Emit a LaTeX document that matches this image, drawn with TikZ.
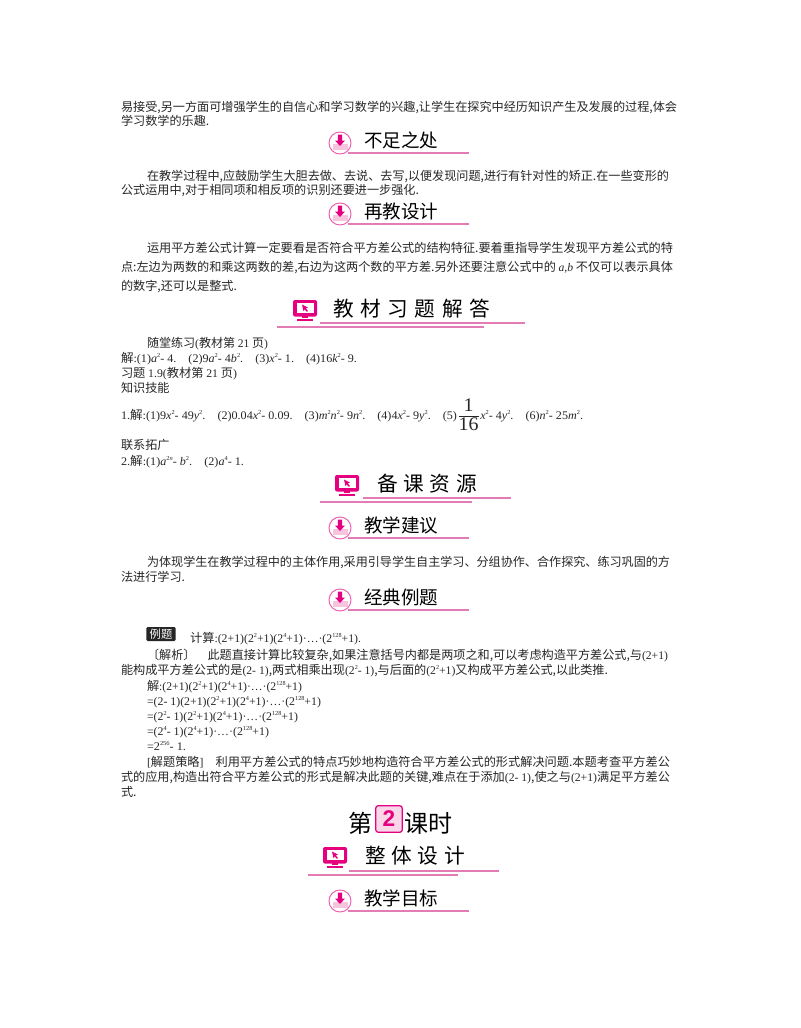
\documentclass[tikz,border=0pt]{standalone}
\usepackage{fontspec}
\setmainfont{Noto Sans CJK SC}
\newfontfamily\latin[Scale=0.96]{Liberation Serif}
\newfontfamily\sanf{Liberation Sans}
\definecolor{pinkm}{HTML}{E4007F}
\definecolor{pinkl}{HTML}{E37BB5}
\definecolor{pinkp}{HTML}{F7C4DE}
\newcommand\la[1]{{\latin #1}}
\newcommand\va[1]{{\itshape #1}}
\newcommand\su[1]{\raisebox{0.42em}{\fontsize{4.8}{5}\selectfont #1}}
\tikzset{
  txtline/.style={anchor=base west,inner sep=0pt,outer sep=0pt,text=black!85,font=\fontsize{9.1}{11}\selectfont},
  headtxt/.style={txtline,text=black,font=\fontsize{13.9}{15}\selectfont},
  bigtxt/.style={txtline,text=black,font=\fontsize{15.5}{17}\selectfont},
  rulepink/.style={draw=pinkl,line width=0.8pt}
}
% one line set to a given right end
\newcommand\fitline[5]{\node[txtline] (#1) at (#2,#3) {\resizebox{\dimexpr 0.75pt*\numexpr #4-#2\relax\relax}{\height}{#5}};}
\newcommand\plainline[4]{\node[txtline] (#1) at (#2,#3) {#4};}
\newcommand\dlhead[3]{%
  \node[circle,draw=pinkm!65,fill=white,line width=0.7pt,minimum size=16.5pt,inner sep=0pt] (#1) at (340,#2+2) {};
  \fill[pinkp] (332.5,#2+3) rectangle (347.5,#2+9);
  \fill[pinkm] (337.9,#2-6.5) -- (342.1,#2-6.5) -- (342.1,#2-0.5) -- (345,#2-0.5) -- (340,#2+5) -- (335,#2-0.5) -- (337.9,#2-0.5) -- cycle;
  \node[headtxt] (#1t) at (364,#2+6) {#3};
  \draw[rulepink] (348,#2+12) -- (469,#2+12);
}
\newcommand\pchead[8]{% name, icon x, icon y, text x, text end, text, line one, line two
  \fill[pinkm,rounded corners=1.5pt] (#2-12,#3-10) rectangle (#2+12,#3+6.5);
  \fill[white] (#2-8.5,#3-7) rectangle (#2+8.5,#3+3);
  \fill[pinkm] (#2-3,#3-5.5) -- (#2+3,#3-2.5) -- (#2+0.8,#3-1.6) -- (#2+3,#3+1) -- (#2+1.8,#3+1.8) -- (#2-0.3,#3-0.6) -- (#2-1.5,#3+1.2) -- cycle;
  \fill[pinkm] (#2-3,#3+6) rectangle (#2+3,#3+8);
  \fill[pinkm] (#2-8,#3+8.5) rectangle (#2+8,#3+10.5);
  \node[bigtxt] (#1) at (#4,#3+6.5) {\hbox to \dimexpr 0.75pt*\numexpr #5-#4\relax\relax{#6}};
  \draw[rulepink] #7;
  \draw[rulepink] #8;
}
\begin{document}
\begin{tikzpicture}[x=0.75pt,y=-0.75pt]
\useasboundingbox (0,0) rectangle (800,1028);
\fitline{pa}{121}{111}{677}{易接受,另一方面可增强学生的自信心和学习数学的兴趣,让学生在探究中经历知识产生及发展的过程,体会}
\plainline{pb}{121}{125}{学习数学的乐趣.}
\dlhead{hbz}{141}{不足之处}
\fitline{pc}{147}{180}{669}{在教学过程中,应鼓励学生大胆去做、去说、去写,以便发现问题,进行有针对性的矫正.在一些变形的}
\plainline{pd}{121}{194}{公式运用中,对于相同项和相反项的识别还要进一步强化.}
\dlhead{hzj}{212}{再教设计}
\fitline{pe}{147}{252}{673}{运用平方差公式计算一定要看是否符合平方差公式的结构特征.要着重指导学生发现平方差公式的特}
\fitline{pf}{121}{271}{673}{点:左边为两数的和乘这两数的差,右边为这两个数的平方差.另外还要注意公式中的 \la{\va{a},\va{b}} 不仅可以表示具体}
\plainline{pg}{121}{290}{的数字,还可以是整式.}
\pchead{hjc}{305}{310}{333}{490}{教\hfill 材\hfill 习\hfill 题\hfill 解\hfill 答}{(320,323) -- (525,323)}{(277,327) -- (484,327)}
\fitline{qa}{147}{347}{268}{随堂练习\la{(}教材第 \la{21} 页\la{)}}
\fitline{qb}{121}{362}{357}{解\la{:(1)\va{a}\su{2}- 4.\quad (2)9\va{a}\su{2}- 4\va{b}\su{2}.\quad (3)\va{x}\su{2}- 1.\quad (4)16\va{k}\su{2}- 9.}}
\fitline{qc}{121}{377}{237}{习题 \la{1.9(}教材第 \la{21} 页\la{)}}
\plainline{qd}{121}{392}{知识技能}
\fitline{qe}{121}{419}{583}{\la{1.}解\la{:(1)9\va{x}\su{2}- 49\va{y}\su{2}.\quad (2)0.04\va{x}\su{2}- 0.09.\quad (3)\va{m}\su{2}\va{n}\su{2}- 9\va{n}\su{2}.\quad (4)4\va{x}\su{2}- 9\va{y}\su{2}.\quad (5)$\displaystyle\frac{\mbox{\fontsize{15}{15}\selectfont 1}}{\mbox{\fontsize{15}{15}\selectfont 16}}$\va{x}\su{2}- 4\va{y}\su{2}.\quad (6)\va{n}\su{2}- 25\va{m}\su{2}.}}
\plainline{qf}{121}{449}{联系拓广}
\fitline{qg}{121}{465}{244}{\la{2.}解\la{:(1)\va{a}\su{2\va{n}}- \va{b}\su{2}.\quad (2)\va{a}\su{4}- 1.}}
\pchead{hbk}{347}{485}{377}{477}{备\hfill 课\hfill 资\hfill 源}{(363,498) -- (511,498)}{(320,502) -- (472,502)}
\dlhead{hjy}{526}{教学建议}
\fitline{ra}{147}{566}{670}{为体现学生在教学过程中的主体作用,采用引导学生自主学习、分组协作、合作探究、练习巩固的方}
\plainline{rb}{121}{581}{法进行学习.}
\dlhead{hjd}{598}{经典例题}
\node[fill=black!85,text=white,rounded corners=1pt,inner sep=0pt,minimum width=22pt,minimum height=10.5pt,font=\fontsize{8.5}{9}\selectfont] (lt) at (161,634) {例题};
\fitline{sa}{190}{642}{361}{计算\la{:(2+1)(2\su{2}+1)(2\su{4}+1)·…·(2\su{128}+1).}}
\fitline{sb}{147}{659}{668}{〔解析〕\hspace{9pt}此题直接计算比较复杂,如果注意括号内都是两项之和,可以考虑构造平方差公式,与\la{(2+1)}}
\fitline{sc}{121}{674}{608}{能构成平方差公式的是\la{(2- 1)},两式相乘出现\la{(2\su{2}- 1)},与后面的\la{(2\su{2}+1)}又构成平方差公式,以此类推.}
\fitline{sd}{147}{690}{302}{解\la{:(2+1)(2\su{2}+1)(2\su{4}+1)·…·(2\su{128}+1)}}
\fitline{se}{147}{705}{321}{\la{=(2- 1)(2+1)(2\su{2}+1)(2\su{4}+1)·…·(2\su{128}+1)}}
\fitline{sf}{147}{720}{298}{\la{=(2\su{2}- 1)(2\su{2}+1)(2\su{4}+1)·…·(2\su{128}+1)}}
\fitline{sg}{147}{735}{269}{\la{=(2\su{4}- 1)(2\su{4}+1)·…·(2\su{128}+1)}}
\fitline{sh}{147}{750}{186}{\la{=2\su{256}- 1.}}
\fitline{si}{147}{766}{670}{\la{[}解题策略\la{]}\hspace{9pt}利用平方差公式的特点巧妙地构造符合平方差公式的形式解决问题.本题考查平方差公}
\fitline{sj}{121}{781}{670}{式的应用,构造出符合平方差公式的形式是解决此题的关键,难点在于添加\la{(2- 1)},使之与\la{(2+1)}满足平方差公}
\plainline{sk}{121}{796}{式.}
% lesson title
\node[txtline,text=black,font=\fontsize{18}{20}\selectfont] (kd) at (348,832) {第};
\node[draw=pinkm,fill=pinkp!70,line width=0.9pt,rounded corners=2pt,minimum width=20pt,minimum height=20pt,inner sep=0pt,text=pinkm,font=\sanf\bfseries\fontsize{17}{17}\selectfont] (kn) at (389,819) {2};
\node[txtline,text=black,font=\fontsize{18}{20}\selectfont] (ks) at (404,832) {课时};
\pchead{hzt}{335}{857}{365}{465}{整\hfill 体\hfill 设\hfill 计}{(349,871) -- (499,871)}{(308,875) -- (458,875)}
\dlhead{hmb}{899}{教学目标}
\end{tikzpicture}
\end{document}
